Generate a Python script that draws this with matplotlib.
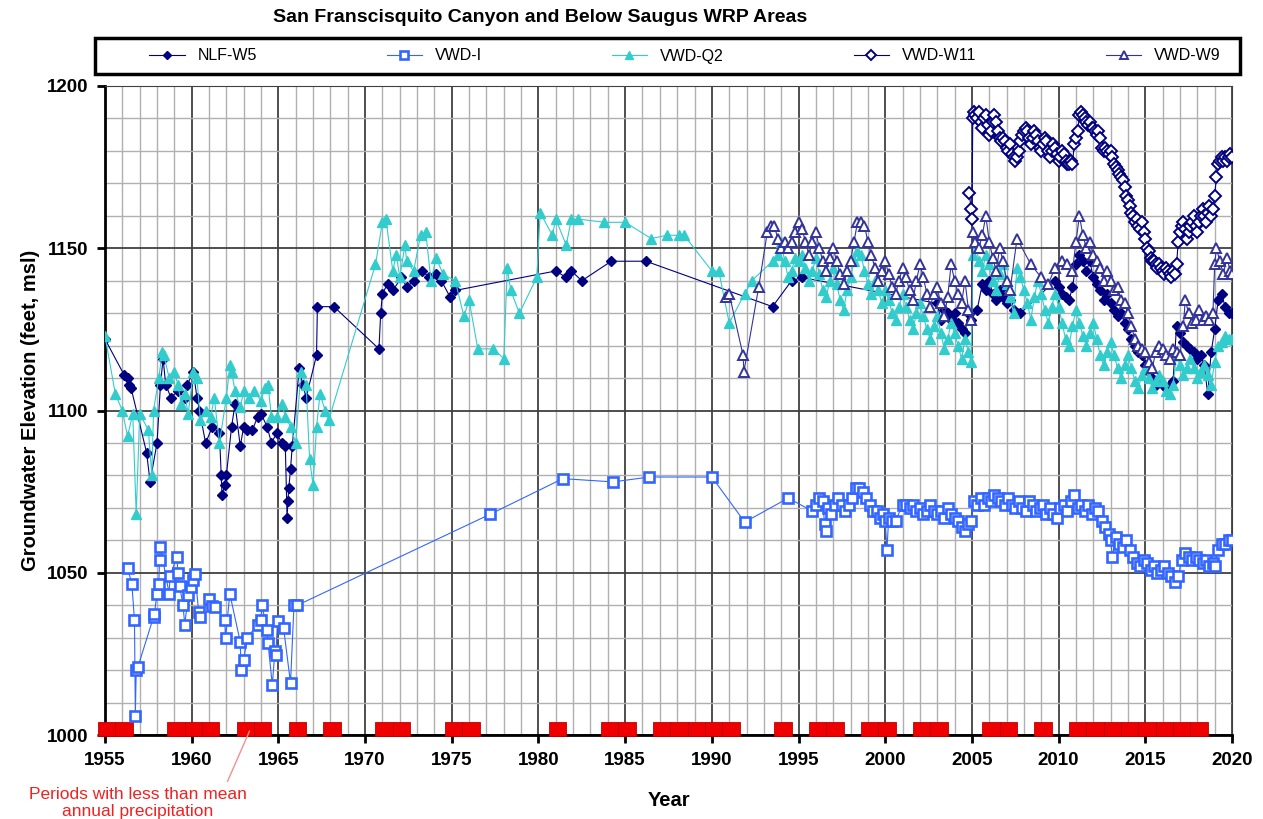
import numpy as np
import matplotlib
matplotlib.use("Agg")
import matplotlib.pyplot as plt
from matplotlib.ticker import MultipleLocator

plt.rcParams['font.family'] = ['Liberation Sans', 'DejaVu Sans']

# ---- data: (year, groundwater elevation ft msl) ----
nlf_w5 = [(1955.0, 1122), (1956.1, 1111), (1956.3, 1110), (1956.4, 1108), (1956.5, 1107),
          (1957.4, 1087), (1957.6, 1078), (1958.0, 1090), (1958.2, 1108), (1958.35, 1116),
          (1958.5, 1108), (1958.8, 1104), (1959.2, 1106), (1959.6, 1104), (1959.75, 1108),
          (1960.1, 1112), (1960.3, 1104), (1960.45, 1100), (1960.8, 1090), (1961.2, 1095),
          (1961.6, 1093), (1961.7, 1080), (1961.75, 1074), (1961.9, 1077), (1962.0, 1080),
          (1962.3, 1095), (1962.5, 1102), (1962.8, 1089), (1963.0, 1095), (1963.2, 1094),
          (1963.5, 1094), (1963.8, 1098), (1964.0, 1099), (1964.35, 1095), (1964.6, 1090),
          (1964.9, 1093), (1965.2, 1090), (1965.4, 1089), (1965.5, 1067), (1965.55, 1072),
          (1965.6, 1076), (1965.7, 1082), (1965.8, 1089), (1966.2, 1113), (1966.4, 1108),
          (1966.6, 1104), (1967.2, 1117), (1967.25, 1132), (1968.2, 1132), (1970.8, 1119),
          (1970.9, 1130), (1971.0, 1136), (1971.3, 1139), (1971.6, 1137), (1972.1, 1141),
          (1972.4, 1138), (1972.8, 1140), (1973.3, 1143), (1973.7, 1141), (1974.1, 1142),
          (1974.4, 1140), (1974.9, 1135), (1975.2, 1137), (1981.0, 1143), (1981.6, 1141),
          (1981.9, 1143), (1982.5, 1140), (1984.2, 1146), (1986.2, 1146), (1993.5, 1132),
          (1994.6, 1140), (1995.2, 1141), (2003.0, 1133), (2003.2, 1128), (2003.4, 1131),
          (2003.6, 1130), (2003.8, 1128), (2004.0, 1130), (2004.2, 1127), (2004.4, 1125),
          (2004.6, 1124), (2004.8, 1130), (2004.95, 1128), (2005.3, 1131), (2005.6, 1139),
          (2005.8, 1137), (2006.0, 1140), (2006.2, 1136), (2006.4, 1134), (2006.6, 1137),
          (2006.8, 1135), (2007.0, 1133), (2007.2, 1134), (2007.4, 1131), (2007.6, 1130),
          (2007.8, 1130), (2009.8, 1140), (2010.0, 1138), (2010.2, 1136), (2010.4, 1135),
          (2010.6, 1134), (2010.8, 1138), (2011.0, 1145), (2011.2, 1148), (2011.4, 1146),
          (2011.6, 1143), (2011.8, 1146), (2012.0, 1141), (2012.2, 1139), (2012.4, 1137),
          (2012.6, 1134), (2012.8, 1136), (2013.0, 1133), (2013.2, 1131), (2013.4, 1129),
          (2013.6, 1130), (2013.8, 1127), (2014.0, 1125), (2014.2, 1122), (2014.4, 1120),
          (2014.6, 1118), (2014.8, 1117), (2015.0, 1114), (2015.2, 1112), (2015.4, 1110),
          (2015.6, 1108), (2015.8, 1109), (2016.0, 1108), (2016.2, 1107), (2016.4, 1108),
          (2016.6, 1109), (2016.8, 1126), (2017.0, 1124), (2017.2, 1121), (2017.4, 1120),
          (2017.6, 1119), (2017.8, 1118), (2018.0, 1116), (2018.2, 1117), (2018.4, 1114),
          (2018.6, 1105), (2018.8, 1118), (2019.0, 1125), (2019.2, 1134), (2019.4, 1136),
          (2019.6, 1132), (2019.8, 1130), (2020.0, 1130)]

vwd_i = [(1956.3, 1051.5), (1956.55, 1046.5), (1956.7, 1035.4), (1956.75, 1006), (1956.8, 1020),
         (1956.9, 1021), (1957.8, 1036.4), (1957.85, 1037.4), (1958.0, 1043.5), (1958.1, 1046.5),
         (1958.15, 1054), (1958.2, 1058), (1958.7, 1043.5), (1958.75, 1049), (1959.15, 1055),
         (1959.2, 1050), (1959.3, 1046), (1959.5, 1040), (1959.6, 1034), (1959.8, 1043),
         (1959.95, 1045.6), (1960.1, 1047.8), (1960.2, 1049.6), (1960.4, 1038), (1960.5, 1036.4),
         (1961.0, 1042), (1961.2, 1039.8), (1961.35, 1039.5), (1961.9, 1035.4), (1961.95, 1030),
         (1962.2, 1043.5), (1962.8, 1028.7), (1962.85, 1020), (1963.0, 1023), (1963.2, 1030),
         (1963.8, 1034), (1964.0, 1035.5), (1964.05, 1040), (1964.35, 1032.4), (1964.4, 1028.4),
         (1964.65, 1015.4), (1964.8, 1026), (1964.85, 1024.5), (1964.95, 1035), (1965.3, 1033),
         (1965.7, 1016), (1965.9, 1040), (1966.1, 1040), (1977.2, 1068), (1981.4, 1079),
         (1984.3, 1078), (1986.4, 1079.5), (1990.0, 1079.5), (1991.9, 1065.6), (1994.4, 1073),
         (1995.8, 1069), (1996.0, 1071), (1996.2, 1073), (1996.4, 1072), (1996.5, 1065),
         (1996.6, 1063), (1996.7, 1070), (1996.9, 1068), (1997.1, 1071), (1997.3, 1073),
         (1997.5, 1071), (1997.7, 1069), (1997.9, 1071), (1998.1, 1073), (1998.3, 1076),
         (1998.5, 1076), (1998.7, 1075), (1998.9, 1073), (1999.1, 1071), (1999.3, 1069),
         (1999.5, 1069), (1999.7, 1067), (1999.9, 1068), (2000.0, 1066), (2000.1, 1057),
         (2000.2, 1067), (2000.4, 1066), (2000.6, 1066), (2001.0, 1071), (2001.2, 1071),
         (2001.4, 1070), (2001.6, 1071), (2001.8, 1069), (2002.0, 1070), (2002.2, 1068),
         (2002.4, 1069), (2002.6, 1071), (2002.8, 1069), (2003.0, 1068), (2003.2, 1069),
         (2003.4, 1067), (2003.6, 1070), (2003.8, 1068), (2004.0, 1067), (2004.2, 1066),
         (2004.4, 1064), (2004.6, 1063), (2004.8, 1065), (2004.95, 1066), (2005.1, 1072),
         (2005.3, 1071), (2005.5, 1073), (2005.7, 1071), (2005.9, 1073), (2006.1, 1072),
         (2006.3, 1074), (2006.5, 1073), (2006.7, 1072), (2006.9, 1071), (2007.1, 1073),
         (2007.3, 1071), (2007.5, 1070), (2007.7, 1072), (2007.9, 1070), (2008.1, 1069),
         (2008.3, 1072), (2008.5, 1071), (2008.7, 1069), (2008.9, 1070), (2009.1, 1071),
         (2009.3, 1068), (2009.5, 1070), (2009.7, 1068), (2009.9, 1067), (2010.1, 1070),
         (2010.3, 1071), (2010.5, 1069), (2010.7, 1072), (2010.9, 1074), (2011.1, 1070),
         (2011.3, 1071), (2011.5, 1069), (2011.7, 1071), (2011.9, 1068), (2012.1, 1070),
         (2012.3, 1069), (2012.5, 1066), (2012.7, 1064), (2012.9, 1062), (2013.0, 1060),
         (2013.1, 1055), (2013.3, 1061), (2013.5, 1059), (2013.7, 1058), (2013.9, 1060),
         (2014.1, 1057), (2014.3, 1055), (2014.5, 1053), (2014.7, 1052), (2014.9, 1054),
         (2015.1, 1053), (2015.3, 1051), (2015.5, 1052), (2015.7, 1050), (2015.9, 1051),
         (2016.1, 1052), (2016.3, 1050), (2016.5, 1049), (2016.7, 1047), (2016.9, 1049),
         (2017.1, 1054), (2017.3, 1056), (2017.5, 1055), (2017.7, 1054), (2017.9, 1055),
         (2018.1, 1054), (2018.3, 1053), (2018.5, 1054), (2018.7, 1052), (2018.9, 1053),
         (2019.0, 1052), (2019.2, 1057), (2019.4, 1059), (2019.6, 1059), (2019.8, 1060),
         (2020.0, 1060)]

vwd_q2 = [(1955.0, 1123), (1955.6, 1105), (1956.0, 1100), (1956.3, 1092), (1956.6, 1099),
          (1956.8, 1068), (1957.0, 1099), (1957.5, 1094), (1957.7, 1080), (1957.8, 1100),
          (1958.1, 1110), (1958.3, 1118), (1958.4, 1117), (1958.7, 1110), (1959.0, 1112),
          (1959.2, 1108), (1959.4, 1102), (1959.6, 1105), (1959.8, 1099), (1960.1, 1112),
          (1960.3, 1110), (1960.5, 1097), (1960.8, 1100), (1961.1, 1098), (1961.3, 1104),
          (1961.6, 1090), (1962.0, 1104), (1962.2, 1114), (1962.3, 1112), (1962.5, 1106),
          (1962.8, 1101), (1963.0, 1106), (1963.3, 1104), (1963.6, 1106), (1964.0, 1103),
          (1964.2, 1107), (1964.4, 1108), (1964.6, 1098), (1964.9, 1098), (1965.2, 1102),
          (1965.4, 1098), (1965.7, 1095), (1966.0, 1090), (1966.3, 1112), (1966.6, 1108),
          (1966.8, 1085), (1967.0, 1077), (1967.2, 1095), (1967.4, 1105), (1967.7, 1100),
          (1967.9, 1097), (1970.6, 1145), (1971.0, 1158), (1971.2, 1159), (1971.6, 1143),
          (1971.8, 1148), (1972.0, 1141), (1972.3, 1151), (1972.4, 1146), (1972.8, 1143),
          (1973.2, 1154), (1973.5, 1155), (1973.8, 1140), (1974.1, 1147), (1974.5, 1142),
          (1975.2, 1140), (1975.7, 1129), (1976.0, 1134), (1976.5, 1119), (1977.4, 1119),
          (1978.0, 1116), (1978.2, 1144), (1978.4, 1137), (1978.9, 1130), (1979.9, 1141),
          (1980.1, 1161), (1980.8, 1154), (1981.0, 1159), (1981.6, 1151), (1981.9, 1159),
          (1982.3, 1159), (1983.8, 1158), (1985.0, 1158), (1986.5, 1153), (1987.4, 1154),
          (1988.1, 1154), (1988.4, 1154), (1990.0, 1143), (1990.4, 1143), (1991.0, 1127),
          (1991.9, 1136), (1992.3, 1140), (1993.5, 1146), (1993.8, 1148), (1994.0, 1152),
          (1994.2, 1146), (1994.4, 1141), (1994.6, 1143), (1994.8, 1147), (1995.0, 1146),
          (1995.2, 1148), (1995.4, 1144), (1995.6, 1140), (1995.8, 1143), (1996.0, 1147),
          (1996.2, 1142), (1996.4, 1137), (1996.6, 1135), (1996.8, 1140), (1997.0, 1144),
          (1997.2, 1139), (1997.4, 1134), (1997.6, 1131), (1997.8, 1137), (1998.0, 1141),
          (1998.2, 1146), (1998.4, 1149), (1998.6, 1148), (1998.8, 1143), (1999.0, 1139),
          (1999.2, 1136), (1999.4, 1140), (1999.6, 1137), (1999.8, 1133), (2000.0, 1137),
          (2000.2, 1134), (2000.4, 1130), (2000.6, 1128), (2000.8, 1132), (2001.0, 1136),
          (2001.2, 1132), (2001.4, 1128), (2001.6, 1125), (2001.8, 1130), (2002.0, 1133),
          (2002.2, 1129), (2002.4, 1125), (2002.6, 1122), (2002.8, 1126), (2003.0, 1129),
          (2003.2, 1124), (2003.4, 1119), (2003.6, 1122), (2003.8, 1127), (2004.0, 1124),
          (2004.2, 1120), (2004.4, 1116), (2004.6, 1122), (2004.8, 1118), (2004.95, 1115),
          (2005.05, 1148), (2005.2, 1152), (2005.4, 1146), (2005.6, 1143), (2005.8, 1148),
          (2006.0, 1145), (2006.2, 1140), (2006.4, 1137), (2006.6, 1142), (2006.8, 1145),
          (2007.0, 1139), (2007.2, 1135), (2007.4, 1130), (2007.6, 1144), (2007.8, 1141),
          (2008.0, 1137), (2008.2, 1133), (2008.4, 1128), (2008.6, 1135), (2008.8, 1140),
          (2009.0, 1136), (2009.2, 1131), (2009.4, 1127), (2009.6, 1132), (2009.8, 1136),
          (2010.0, 1132), (2010.2, 1127), (2010.4, 1122), (2010.6, 1120), (2010.8, 1126),
          (2011.0, 1131), (2011.2, 1127), (2011.4, 1123), (2011.6, 1120), (2011.8, 1124),
          (2012.0, 1127), (2012.2, 1122), (2012.4, 1117), (2012.6, 1114), (2012.8, 1118),
          (2013.0, 1121), (2013.2, 1117), (2013.4, 1113), (2013.6, 1110), (2013.8, 1114),
          (2014.0, 1117), (2014.2, 1113), (2014.4, 1109), (2014.6, 1107), (2014.8, 1111),
          (2015.0, 1113), (2015.2, 1110), (2015.4, 1107), (2015.6, 1109), (2015.8, 1111),
          (2016.0, 1109), (2016.2, 1106), (2016.4, 1105), (2016.6, 1108), (2016.8, 1117),
          (2017.0, 1114), (2017.2, 1111), (2017.4, 1113), (2017.6, 1116), (2017.8, 1113),
          (2018.0, 1110), (2018.2, 1112), (2018.4, 1114), (2018.6, 1111), (2018.8, 1108),
          (2019.0, 1115), (2019.2, 1120), (2019.4, 1121), (2019.6, 1123), (2019.8, 1122),
          (2020.0, 1122)]

vwd_w11 = [(2004.85, 1167), (2004.95, 1162), (2005.0, 1159), (2005.05, 1190), (2005.1, 1192),
           (2005.2, 1191), (2005.3, 1190), (2005.4, 1192), (2005.5, 1189), (2005.6, 1187),
           (2005.7, 1190), (2005.8, 1191), (2005.9, 1188), (2006.0, 1185), (2006.1, 1186),
           (2006.2, 1189), (2006.3, 1191), (2006.4, 1189), (2006.5, 1186), (2006.6, 1184),
           (2006.7, 1183), (2006.8, 1184), (2006.9, 1183), (2007.0, 1181), (2007.1, 1180),
           (2007.2, 1182), (2007.3, 1179), (2007.4, 1178), (2007.5, 1177), (2007.6, 1178),
           (2007.7, 1180), (2007.8, 1183), (2007.9, 1185), (2008.0, 1186), (2008.1, 1187),
           (2008.2, 1186), (2008.3, 1184), (2008.4, 1182), (2008.5, 1184), (2008.6, 1186),
           (2008.7, 1185), (2008.8, 1183), (2008.9, 1181), (2009.0, 1180), (2009.1, 1182),
           (2009.2, 1184), (2009.3, 1183), (2009.4, 1180), (2009.5, 1178), (2009.6, 1180),
           (2009.7, 1182), (2009.8, 1181), (2009.9, 1179), (2010.0, 1177), (2010.1, 1178),
           (2010.2, 1180), (2010.3, 1179), (2010.4, 1177), (2010.5, 1176), (2010.6, 1176),
           (2010.7, 1177), (2010.8, 1176), (2010.9, 1182), (2011.0, 1184), (2011.1, 1186),
           (2011.2, 1191), (2011.3, 1192), (2011.4, 1191), (2011.5, 1190), (2011.6, 1189),
           (2011.7, 1188), (2011.8, 1189), (2011.9, 1187), (2012.0, 1187), (2012.1, 1186),
           (2012.2, 1185), (2012.3, 1186), (2012.4, 1184), (2012.5, 1181), (2012.6, 1180),
           (2012.7, 1181), (2012.8, 1180), (2012.9, 1179), (2013.0, 1180), (2013.1, 1178),
           (2013.2, 1176), (2013.3, 1175), (2013.4, 1174), (2013.5, 1173), (2013.6, 1172),
           (2013.7, 1171), (2013.8, 1169), (2013.9, 1166), (2014.0, 1165), (2014.1, 1163),
           (2014.2, 1161), (2014.3, 1160), (2014.4, 1158), (2014.5, 1159), (2014.6, 1157),
           (2014.7, 1156), (2014.8, 1158), (2014.9, 1155), (2015.0, 1153), (2015.1, 1150),
           (2015.2, 1149), (2015.3, 1147), (2015.4, 1146), (2015.5, 1146), (2015.6, 1145),
           (2015.7, 1144), (2015.8, 1145), (2015.9, 1144), (2016.0, 1143), (2016.1, 1142),
           (2016.2, 1144), (2016.3, 1143), (2016.4, 1142), (2016.5, 1141), (2016.6, 1143),
           (2016.7, 1142), (2016.8, 1145), (2016.9, 1152), (2017.0, 1155), (2017.1, 1157),
           (2017.2, 1158), (2017.3, 1156), (2017.4, 1153), (2017.5, 1155), (2017.6, 1157),
           (2017.7, 1158), (2017.8, 1160), (2017.9, 1157), (2018.0, 1155), (2018.1, 1158),
           (2018.2, 1160), (2018.3, 1162), (2018.4, 1160), (2018.5, 1158), (2018.6, 1161),
           (2018.7, 1163), (2018.8, 1160), (2018.9, 1162), (2019.0, 1166), (2019.1, 1172),
           (2019.2, 1176), (2019.3, 1177), (2019.4, 1178), (2019.5, 1177), (2019.6, 1178),
           (2019.7, 1177), (2019.8, 1178), (2019.9, 1179), (2020.0, 1178)]

vwd_w9 = [(1990.8, 1135), (1991.0, 1136), (1991.8, 1117), (1991.85, 1112), (1992.7, 1138),
          (1993.2, 1155), (1993.4, 1157), (1993.6, 1157), (1993.8, 1153), (1994.0, 1150),
          (1994.2, 1152), (1994.4, 1150), (1994.6, 1152), (1994.8, 1155), (1995.0, 1158),
          (1995.2, 1156), (1995.4, 1152), (1995.6, 1148), (1995.8, 1152), (1996.0, 1155),
          (1996.2, 1150), (1996.4, 1146), (1996.6, 1143), (1996.8, 1147), (1997.0, 1150),
          (1997.2, 1146), (1997.4, 1142), (1997.6, 1139), (1997.8, 1143), (1998.0, 1146),
          (1998.2, 1152), (1998.4, 1158), (1998.6, 1158), (1998.8, 1157), (1999.0, 1152),
          (1999.2, 1148), (1999.4, 1144), (1999.6, 1140), (1999.8, 1143), (2000.0, 1146),
          (2000.2, 1142), (2000.4, 1138), (2000.6, 1136), (2000.8, 1140), (2001.0, 1144),
          (2001.2, 1141), (2001.4, 1137), (2001.6, 1134), (2001.8, 1140), (2002.0, 1145),
          (2002.2, 1141), (2002.4, 1136), (2002.6, 1132), (2002.8, 1136), (2003.0, 1138),
          (2003.2, 1133), (2003.4, 1129), (2003.6, 1135), (2003.8, 1145), (2004.0, 1140),
          (2004.2, 1136), (2004.4, 1133), (2004.6, 1140), (2004.8, 1131), (2004.95, 1128),
          (2005.05, 1155), (2005.2, 1152), (2005.4, 1150), (2005.6, 1154), (2005.8, 1160),
          (2006.0, 1152), (2006.2, 1147), (2006.4, 1143), (2006.6, 1150), (2006.8, 1146),
          (2007.0, 1140), (2007.2, 1137), (2007.6, 1153), (2008.4, 1145), (2009.0, 1141),
          (2009.4, 1139), (2009.8, 1144), (2010.2, 1146), (2010.5, 1145), (2010.8, 1143),
          (2011.0, 1152), (2011.2, 1160), (2011.4, 1154), (2011.6, 1150), (2011.8, 1152),
          (2012.0, 1148), (2012.2, 1146), (2012.4, 1144), (2012.6, 1140), (2012.8, 1143),
          (2013.0, 1140), (2013.2, 1137), (2013.4, 1138), (2013.6, 1134), (2013.8, 1133),
          (2014.0, 1130), (2014.2, 1126), (2014.4, 1122), (2014.6, 1120), (2014.8, 1119),
          (2015.0, 1118), (2015.2, 1115), (2015.4, 1113), (2015.6, 1118), (2015.8, 1120),
          (2016.0, 1119), (2016.2, 1117), (2016.4, 1116), (2016.6, 1119), (2016.8, 1118),
          (2017.0, 1117), (2017.2, 1126), (2017.3, 1134), (2017.5, 1130), (2017.7, 1127),
          (2017.9, 1128), (2018.1, 1131), (2018.3, 1128), (2018.5, 1129), (2018.7, 1128),
          (2018.9, 1130), (2019.0, 1145), (2019.1, 1150), (2019.3, 1146), (2019.5, 1142),
          (2019.7, 1147), (2019.9, 1143), (2020.0, 1142)]

# water years with less than mean annual precipitation (bar starts mid-year)
dry_years = [1954, 1955, 1958, 1959, 1960, 1962, 1963, 1965, 1967, 1970, 1971, 1974, 1975,
             1980, 1983, 1984, 1986, 1987, 1988, 1989, 1990, 1993, 1995, 1996, 1998, 1999,
             2001, 2002, 2005, 2006, 2008, 2010, 2011, 2012, 2013, 2014, 2015, 2016, 2017]

fig = plt.figure(figsize=(12.63, 8.19), dpi=100)
ax = fig.add_axes([105/1263, 1-735/819, (1232-105)/1263, (735-86)/819])

# grid
ax.xaxis.set_major_locator(MultipleLocator(5))
ax.xaxis.set_minor_locator(MultipleLocator(1))
ax.yaxis.set_major_locator(MultipleLocator(50))
ax.yaxis.set_minor_locator(MultipleLocator(10))
ax.grid(which='minor', color='#b0b0b0', lw=1.0)
ax.grid(which='major', color='#404040', lw=1.3)
ax.set_axisbelow(True)

# dry period bars
ax.bar([y + 0.6 for y in dry_years], 4.4, width=1.0, bottom=999.6, align='edge',
       color='#ee0000', edgecolor='#c00000', lw=0.6, clip_on=False, zorder=3)

def series(pts):
    return [p[0] for p in pts], [p[1] for p in pts]

x, y = series(nlf_w5)
ax.plot(x, y, '-D', color='#000080', lw=0.8, ms=5, mfc='#000080',
        mec='#000080', label='NLF-W5', zorder=4)
x, y = series(vwd_i)
ax.plot(x, y, '-s', color='#3366ff', lw=0.8, ms=6.5, mfc='white',
        mec='#3366ff', mew=1.9, label='VWD-I', zorder=4)
x, y = series(vwd_q2)
ax.plot(x, y, '-^', color='#33cccc', lw=0.8, ms=7, mfc='#33cccc',
        mec='#33cccc', label='VWD-Q2', zorder=4)
x, y = series(vwd_w11)
ax.plot(x, y, '-D', color='#000080', lw=0.8, ms=6, mfc='white',
        mec='#000080', mew=1.4, label='VWD-W11', zorder=4)
x, y = series(vwd_w9)
ax.plot(x, y, '-^', color='#333399', lw=0.8, ms=7, mfc='white',
        mec='#333399', mew=1.4, label='VWD-W9', zorder=4)

ax.set_xlim(1955, 2020)
ax.set_ylim(1000, 1200)
for s in ['top', 'right']:
    ax.spines[s].set_color('#404040')
for s in ['left', 'bottom']:
    ax.spines[s].set_linewidth(2)
ax.tick_params(which='major', direction='out', length=6, width=2,
               labelsize=13.5, pad=6)
ax.tick_params(which='minor', length=0)
for t in ax.get_xticklabels() + ax.get_yticklabels():
    t.set_fontweight('bold')

ax.set_xlabel('Year', fontsize=14.5, fontweight='bold', labelpad=16)
ax.set_ylabel('Groundwater Elevation (feet, msl)', fontsize=14.5, fontweight='bold', labelpad=5)

fig.text(540/1263, 1-18/819, 'San Franscisquito Canyon and Below Saugus WRP Areas',
         ha='center', va='center', fontsize=14, fontweight='bold')

leg = fig.legend(loc='center', ncol=5, mode='expand',
                 bbox_to_anchor=(135/1263, 1-74/819, 1100/1263, 36/819),
                 frameon=False, fontsize=11.5, handlelength=2.2, markerscale=0.85)
# legend box drawn as a figure-level frame
box = plt.Rectangle((95/1263, 1-74/819), 1145/1263, 36/819, transform=fig.transFigure,
                    fill=False, edgecolor='black', lw=2.5)
fig.add_artist(box)

ax.annotate('Periods with less than mean\nannual precipitation',
            xy=(1963.4, 1002), xycoords='data',
            xytext=(138/1263, 1-803/819), textcoords='figure fraction',
            ha='center', va='center', color='#ee2222', fontsize=12.5,
            arrowprops=dict(arrowstyle='-', color='#f09090', lw=1, relpos=(0.9, 1.0)),
            annotation_clip=False)

fig.savefig('out.png', dpi=100)
